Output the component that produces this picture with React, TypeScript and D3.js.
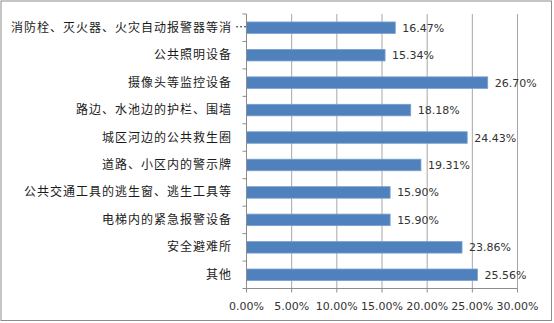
import React from "react";
import * as d3 from "d3";

const categories = [
  "消防栓、灭火器、火灾自动报警器等消",
  "公共照明设备",
  "摄像头等监控设备",
  "路边、水池边的护栏、围墙",
  "城区河边的公共救生圈",
  "道路、小区内的警示牌",
  "公共交通工具的逃生窗、逃生工具等",
  "电梯内的紧急报警设备",
  "安全避难所",
  "其他",
];
const values = [16.47, 15.34, 26.7, 18.18, 24.43, 19.31, 15.9, 15.9, 23.86, 25.56];
const ticks = [0, 5, 10, 15, 20, 25, 30];

const W = 554;
const H = 323;
const left = 246.5;
const right = 517.5;
const top = 14;
const bottom = 288.5;
const font = "'Noto Sans CJK SC', 'DejaVu Sans', sans-serif";
const numFont = "'DejaVu Sans', 'Liberation Sans', sans-serif";

export default function App() {
  const x = d3.scaleLinear().domain([0, 30]).range([left, right]);
  const y = d3
    .scaleBand<string>()
    .domain(categories)
    .range([top, bottom]);
  const bandH = y.step();
  const barH = bandH * 0.42;

  return (
    <svg
      width={W}
      height={H}
      style={{ position: "absolute", left: 0, top: 0, background: "#fff" }}
    >
      <rect x={1} y={1} width={550.5} height={319.5} fill="#fff" stroke="#8c8c8c" strokeWidth={1} />
      {ticks.slice(1).map((t) => (
        <line key={t} x1={x(t)} x2={x(t)} y1={top} y2={bottom} stroke="#a6a6a6" strokeWidth={1} />
      ))}
      {categories.map((c, i) => {
        const cy = (y(c) as number) + bandH / 2;
        return (
          <g key={c}>
            <rect
              x={x(0)}
              y={cy - barH / 2}
              width={x(values[i]) - x(0)}
              height={barH}
              fill="#4f81bd"
              stroke="#7aa0d0"
              strokeWidth={0.8}
            />
            <text
              x={x(values[i]) + 7}
              y={cy + 4}
              fontSize={11}
              fontFamily={numFont}
              fill="#333"
            >
              {values[i].toFixed(2) + "%"}
            </text>
            <text
              x={232}
              y={cy + 4}
              fontSize={12}
              fontFamily={font}
              fill="#1a1a1a"
              textAnchor="end"
              letterSpacing={1}
            >
              {c}
            </text>
            {i === 0 && (
              <text x={235} y={cy + 4} fontSize={12} fontFamily={font} fill="#1a1a1a">
                …
              </text>
            )}
          </g>
        );
      })}
      <line x1={left} x2={left} y1={top} y2={bottom} stroke="#8c8c8c" />
      {d3.range(categories.length + 1).map((i) => (
        <line
          key={i}
          x1={left - 4}
          x2={left}
          y1={top + i * bandH}
          y2={top + i * bandH}
          stroke="#8c8c8c"
        />
      ))}
      <line x1={left} x2={right} y1={bottom} y2={bottom} stroke="#8c8c8c" />
      {ticks.map((t) => (
        <g key={t}>
          <line x1={x(t)} x2={x(t)} y1={bottom} y2={bottom + 4} stroke="#8c8c8c" />
          <text
            x={x(t)}
            y={310}
            fontSize={11}
            fontFamily={numFont}
            fill="#333"
            textAnchor="middle"
          >
            {t.toFixed(2) + "%"}
          </text>
        </g>
      ))}
    </svg>
  );
}
